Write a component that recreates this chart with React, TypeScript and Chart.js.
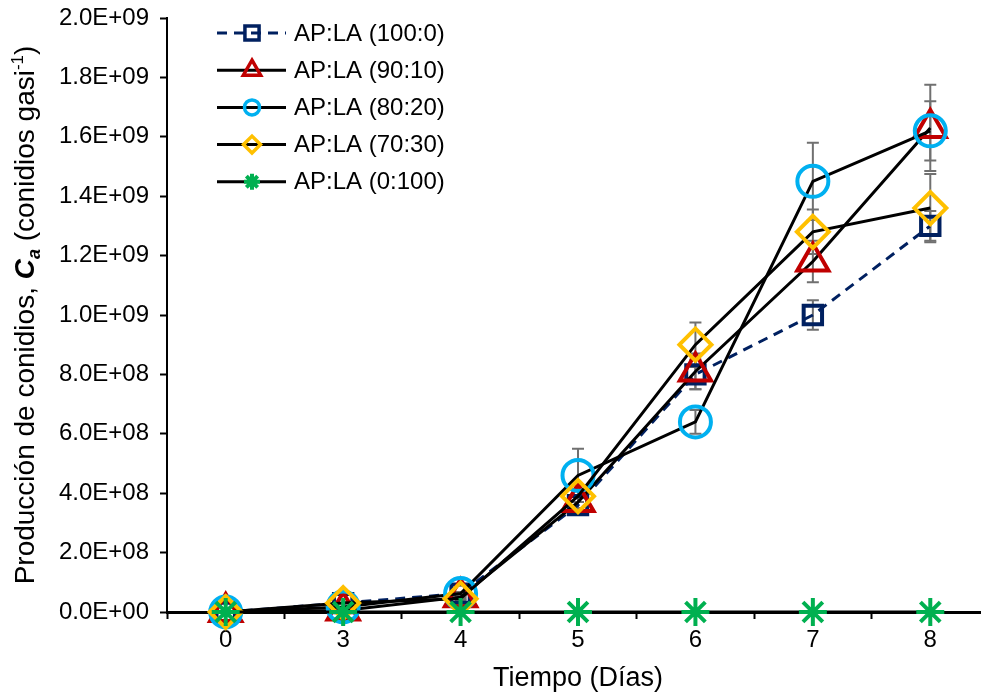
import React, { useEffect, useRef } from 'react';
import { Chart, registerables } from 'chart.js';
import { drawPoint } from 'chart.js/helpers';

Chart.register(...registerables);

const categories = ['0', '3', '4', '5', '6', '7', '8'];
const seriesNames = ['AP:LA (100:0)', 'AP:LA (90:10)', 'AP:LA (80:20)', 'AP:LA (70:30)', 'AP:LA (0:100)'];

const ap100 = [0, 3.0e7, 6.2e7, 3.6e8, 8.0e8, 1.0e9, 1.3e9];
const ap90 = [0, 5e6, 5.0e7, 3.7e8, 8.1e8, 1.18e9, 1.63e9];
const ap80 = [0, 1.7e7, 6.2e7, 4.6e8, 6.4e8, 1.45e9, 1.62e9];
const ap70 = [0, 3.0e7, 4.5e7, 3.9e8, 9.0e8, 1.28e9, 1.36e9];
const ap0 = [0, 0, 0, 0, 0, 0, 0];

const err100 = [0, 0, 5e6, 1e7, 5e7, 5e7, 5e7];
const err90 = [0, 0, 5e6, 2e7, 6e7, 7e7, 1.45e8];
const err80 = [0, 0, 5e6, 9e7, 4e7, 1.3e8, 1.0e8];
const err70 = [0, 0, 5e6, 2e7, 7.5e7, 7.5e7, 1.15e8];
const err0 = [0, 0, 0, 0, 0, 0, 0];

const yTickLabels = [
  '0.0E+00', '2.0E+08', '4.0E+08', '6.0E+08', '8.0E+08', '1.0E+09',
  '1.2E+09', '1.4E+09', '1.6E+09', '1.8E+09', '2.0E+09',
];

const FONT = "'Liberation Sans', Arial, sans-serif";

const NAVY = '#002060';
const RED = '#C00000';
const CYAN = '#00B0F0';
const ORANGE = '#FFC000';
const GREEN = '#00B050';

const seriesValues = [ap100, ap90, ap80, ap70, ap0];
const seriesErrors = [err100, err90, err80, err70, err0];
const markerColors = [NAVY, RED, CYAN, ORANGE, GREEN];
const lineColors = [NAVY, '#000000', '#000000', '#000000', '#000000'];
const pointStyles = ['rect', 'triangle', 'circle', 'rectRot', 'star'];
const pointRadii = [13, 18, 15.5, 16, 14];
const legendRadii = [10, 10, 7.5, 8.5, 8];

const errorBarPlugin = {
  id: 'errorBars',
  beforeDatasetsDraw(chart: any) {
    const ctx = chart.ctx;
    const yScale = chart.scales.y;
    ctx.save();
    ctx.strokeStyle = '#707070';
    ctx.lineWidth = 2;
    chart.data.datasets.forEach((ds: any, di: number) => {
      const meta = chart.getDatasetMeta(di);
      const errs = seriesErrors[di];
      meta.data.forEach((pt: any, i: number) => {
        const e = errs[i];
        if (!e) return;
        const v = ds.data[i];
        const yTop = yScale.getPixelForValue(v + e);
        const yBot = yScale.getPixelForValue(v - e);
        const x = pt.x;
        ctx.beginPath();
        ctx.moveTo(x, yTop);
        ctx.lineTo(x, yBot);
        ctx.moveTo(x - 6, yTop);
        ctx.lineTo(x + 6, yTop);
        ctx.moveTo(x - 6, yBot);
        ctx.lineTo(x + 6, yBot);
        ctx.stroke();
      });
    });
    ctx.restore();
  },
};

const legendPlugin = {
  id: 'customLegend',
  afterDraw(chart: any) {
    const ctx = chart.ctx;
    ctx.save();
    seriesNames.forEach((name, i) => {
      const y = 33 + i * 37.2;
      ctx.lineWidth = 3;
      ctx.strokeStyle = lineColors[i];
      ctx.setLineDash(i === 0 ? [10, 7] : []);
      ctx.beginPath();
      ctx.moveTo(217, y);
      ctx.lineTo(286, y);
      ctx.stroke();
      ctx.setLineDash([]);
      ctx.strokeStyle = markerColors[i];
      ctx.fillStyle = 'rgba(0,0,0,0)';
      ctx.lineWidth = i === 4 ? 4 : 3.5;
      drawPoint(ctx, { pointStyle: pointStyles[i], radius: legendRadii[i], rotation: 0, borderWidth: 3.5 }, 252, y);
      ctx.fillStyle = '#000000';
      ctx.font = `24px ${FONT}`;
      ctx.textAlign = 'left';
      ctx.textBaseline = 'middle';
      ctx.fillText(name, 294, y + 1);
    });
    ctx.restore();
  },
};

const titlesPlugin = {
  id: 'axisTitles',
  afterDraw(chart: any) {
    const ctx = chart.ctx;
    const area = chart.chartArea;
    ctx.save();
    ctx.fillStyle = '#000000';
    // x title
    ctx.font = `27px ${FONT}`;
    ctx.textAlign = 'center';
    ctx.textBaseline = 'alphabetic';
    ctx.fillText('Tiempo (Días)', (area.left + area.right) / 2, 686);

    // y title (rich text, rotated)
    const pieces = [
      { t: 'Producción de conidios, ', f: `28px ${FONT}`, dy: 0 },
      { t: 'C', f: `italic bold 28px ${FONT}`, dy: 0 },
      { t: 'a', f: `italic bold 18px ${FONT}`, dy: 6 },
      { t: ' (conidios gasi', f: `28px ${FONT}`, dy: 0 },
      { t: '-1', f: `17px ${FONT}`, dy: -11 },
      { t: ')', f: `28px ${FONT}`, dy: 0 },
    ];
    let total = 0;
    const widths = pieces.map((p) => {
      ctx.font = p.f;
      const w = ctx.measureText(p.t).width;
      total += w;
      return w;
    });
    ctx.translate(34, (area.top + area.bottom) / 2);
    ctx.rotate(-Math.PI / 2);
    ctx.textAlign = 'left';
    let x = -total / 2;
    pieces.forEach((p, i) => {
      ctx.font = p.f;
      ctx.fillText(p.t, x, p.dy);
      x += widths[i];
    });
    ctx.restore();
  },
};

export default function App() {
  const canvasRef = useRef<HTMLCanvasElement | null>(null);

  useEffect(() => {
    if (!canvasRef.current) return;
    const datasets = seriesNames.map((name, i) => ({
      label: name,
      data: seriesValues[i],
      borderColor: lineColors[i],
      borderWidth: 3,
      borderDash: i === 0 ? [10, 7] : [],
      pointStyle: pointStyles[i],
      pointRadius: pointRadii[i],
      pointHoverRadius: pointRadii[i],
      pointBorderColor: markerColors[i],
      pointBackgroundColor: 'rgba(0,0,0,0)',
      pointBorderWidth: 4,
      tension: 0,
      fill: false,
      clip: false as any,
      order: 4 - i,
    }));

    const chart = new Chart(canvasRef.current, {
      type: 'line',
      data: { labels: categories, datasets },
      options: {
        animation: false,
        responsive: true,
        maintainAspectRatio: false,
        layout: { autoPadding: false, padding: { top: 18, left: 0, right: 0, bottom: 0 } },
        plugins: {
          legend: { display: false },
          tooltip: { enabled: false },
        },
        scales: {
          x: {
            type: 'category',
            offset: true,
            afterFit: (scale: any) => {
              scale.height = 80;
              scale.paddingLeft = 0;
              scale.paddingRight = 0;
            },
            border: { display: true, color: '#000000', width: 3 },
            grid: {
              display: true,
              offset: true,
              drawOnChartArea: false,
              drawTicks: true,
              tickLength: 7,
              tickWidth: 2,
              tickColor: '#000000',
            },
            ticks: {
              color: '#000000',
              font: { family: FONT, size: 24 },
              padding: 7,
              maxRotation: 0,
              autoSkip: false,
            },
          },
          y: {
            min: 0,
            max: 2e9,
            afterFit: (scale: any) => {
              scale.width = 167;
              scale.paddingTop = 0;
              scale.paddingBottom = 0;
            },
            border: { display: true, color: '#000000', width: 2 },
            grid: {
              display: true,
              drawOnChartArea: false,
              drawTicks: true,
              tickLength: 7,
              tickWidth: 2,
              tickColor: '#000000',
            },
            ticks: {
              stepSize: 2e8,
              color: '#000000',
              font: { family: FONT, size: 24 },
              padding: 11,
              callback: (_v: any, i: number) => yTickLabels[i],
            },
          },
        },
      },
      plugins: [errorBarPlugin, legendPlugin, titlesPlugin],
    });
    return () => chart.destroy();
  }, []);

  return (
    <div style={{ position: 'fixed', left: 0, top: 0, width: 981, height: 692, overflow: 'hidden', background: '#ffffff' }}>
      <div style={{ position: 'relative', width: 989, height: 692 }}>
        <canvas ref={canvasRef} />
      </div>
    </div>
  );
}
